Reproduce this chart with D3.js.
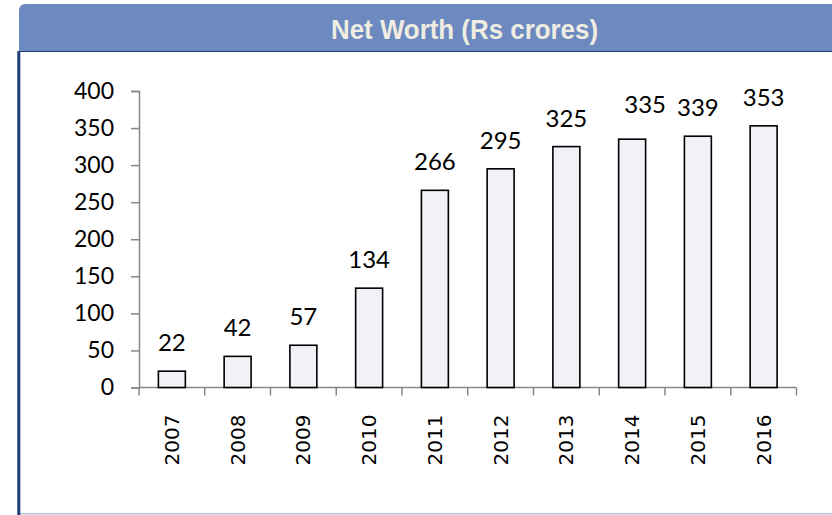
<!DOCTYPE html>
<html>
<head>
<meta charset="utf-8">
<script src="https://cdn.jsdelivr.net/npm/d3@7"></script>
<style>
  body { margin: 0; background: #fff; }
  svg { display: block; }
</style>
</head>
<body>
<div id="chart"></div>
<script>
var years = ["2007", "2008", "2009", "2010", "2011", "2012", "2013", "2014", "2015", "2016"]
var netWorth = [22, 42, 57, 134, 266, 295, 325, 335, 339, 353]
var yTicks = [0, 50, 100, 150, 200, 250, 300, 350, 400]
var title = "Net Worth (Rs crores)"

// excel moved one label to avoid its neighbour
var labelNudge = { "2014": [13, -6] }

var width = 832, height = 515

var svg = d3.select("#chart").append("svg")
  .attr("width", width)
  .attr("height", height)

// panel frame
svg.append("rect")
  .attr("x", 19).attr("y", 4)
  .attr("width", 830).attr("height", 56)
  .attr("rx", 6)
  .attr("fill", "#6c8abf")
svg.append("rect")
  .attr("x", 19).attr("y", 51)
  .attr("width", 820).attr("height", 470)
  .attr("fill", "#fff")
svg.append("line")
  .attr("x1", 19).attr("x2", width)
  .attr("y1", 51.5).attr("y2", 51.5)
  .attr("stroke", "#1f3d78").attr("stroke-width", 1.2)
svg.append("line")
  .attr("x1", 20).attr("x2", width)
  .attr("y1", 513.8).attr("y2", 513.8)
  .attr("stroke", "#b2c3da").attr("stroke-width", 1.5)
svg.append("line")
  .attr("x1", 18.8).attr("x2", 18.8)
  .attr("y1", 51).attr("y2", height)
  .attr("stroke", "#1f3d78").attr("stroke-width", 3)

svg.append("text")
  .attr("x", 464.5).attr("y", 39)
  .attr("text-anchor", "middle")
  .attr("font-family", "'Liberation Sans', Arial, sans-serif")
  .attr("font-weight", "bold")
  .attr("font-size", 28)
  .attr("textLength", 267)
  .attr("lengthAdjust", "spacingAndGlyphs")
  .attr("fill", "#efece2")
  .text(title)

var x = d3.scaleBand()
  .domain(years)
  .range([139, 796.5])
  .paddingInner(0.59)
  .paddingOuter(0.295)

var y = d3.scaleLinear()
  .domain([0, 400])
  .range([387.5, 91])

// y axis
var yAxis = svg.append("g")
  .attr("transform", "translate(139,0)")
  .call(d3.axisLeft(y).tickValues(yTicks).tickSize(8).tickPadding(17))
yAxis.select(".domain").attr("stroke", "#878787").attr("stroke-width", 1.5)
yAxis.selectAll(".tick line").attr("stroke", "#878787").attr("stroke-width", 1.5)
yAxis.selectAll(".tick text")
  .attr("font-family", "Lato, 'Open Sans', sans-serif")
  .attr("font-size", 23)
  .attr("fill", "#000")

// x axis: ticks sit between categories
var xAxis = svg.append("g")
  .attr("transform", "translate(0,387.5)")
xAxis.append("line")
  .attr("x1", 139).attr("x2", 796.5)
  .attr("stroke", "#878787").attr("stroke-width", 1.5)
var edges = years.map(function(d) { return x(d) - x.step() * x.paddingInner() / 2 })
edges.push(796.5)
edges[0] = 139
xAxis.selectAll(".xtick")
  .data(edges)
  .enter().append("line")
  .attr("class", "xtick")
  .attr("x1", function(d) { return d }).attr("x2", function(d) { return d })
  .attr("y1", 0).attr("y2", 8)
  .attr("stroke", "#878787").attr("stroke-width", 1.5)

xAxis.selectAll(".xlabel")
  .data(years)
  .enter().append("text")
  .attr("class", "xlabel")
  .attr("transform", function(d) {
    return "translate(" + (x(d) + x.bandwidth() / 2) + ",27) rotate(-90)"
  })
  .attr("text-anchor", "end")
  .attr("dominant-baseline", "central")
  .attr("font-family", "'DejaVu Sans', Verdana, sans-serif")
  .attr("font-size", 20)
  .attr("fill", "#000")
  .text(function(d) { return d })

// bars
svg.selectAll(".bar")
  .data(netWorth)
  .enter().append("rect")
  .attr("class", "bar")
  .attr("x", function(d, i) { return x(years[i]) })
  .attr("y", function(d) { return y(d) })
  .attr("width", x.bandwidth())
  .attr("height", function(d) { return y(0) - y(d) })
  .attr("fill", "#f1f1f8")
  .attr("stroke", "#000")
  .attr("stroke-width", 1.6)

// data labels
svg.selectAll(".label")
  .data(netWorth)
  .enter().append("text")
  .attr("class", "label")
  .attr("x", function(d, i) {
    var n = labelNudge[years[i]]
    return x(years[i]) + x.bandwidth() / 2 + (n ? n[0] : 0)
  })
  .attr("y", function(d, i) {
    var n = labelNudge[years[i]]
    return y(d) - 20 + (n ? n[1] : 0)
  })
  .attr("text-anchor", "middle")
  .attr("font-family", "Lato, 'Open Sans', sans-serif")
  .attr("font-size", 24)
  .attr("fill", "#000")
  .text(function(d) { return d })
</script>
</body>
</html>
